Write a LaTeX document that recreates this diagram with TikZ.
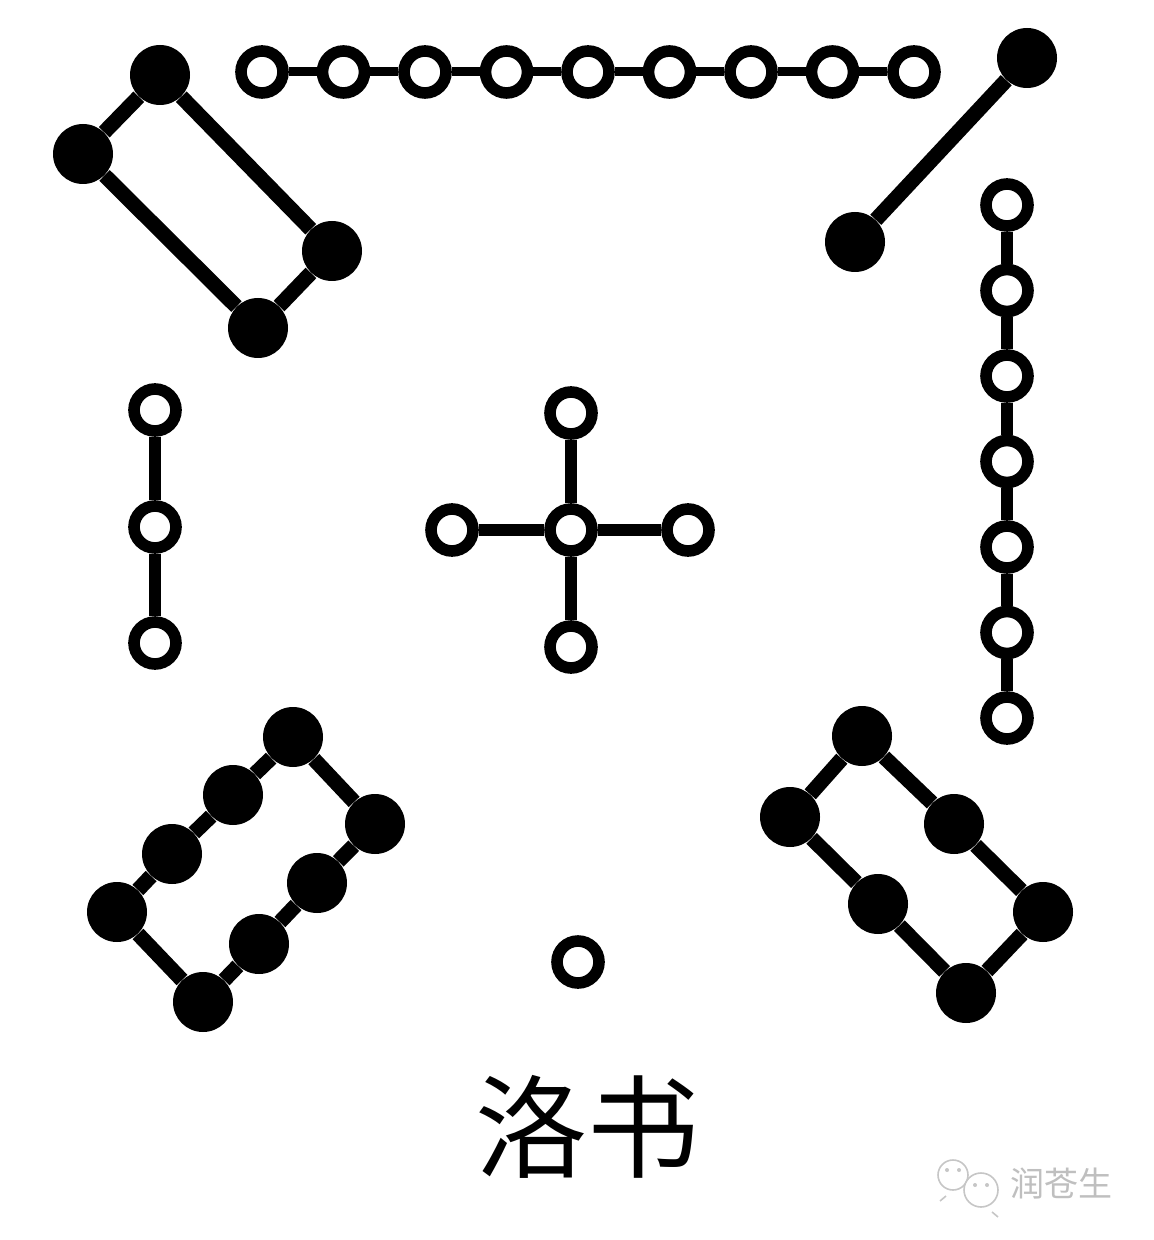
\documentclass[tikz,border=0pt]{standalone}
\usepackage{fontspec}
\newfontfamily\cjk{Noto Sans CJK SC}
\begin{document}
\begin{tikzpicture}[x=0.5pt,y=-0.5pt,
yang/.style={%
circle,
draw,
fill=white,
line width=5.8pt,
inner sep=0pt,
minimum size=21pt
},
yin/.style={%
circle,
fill=black,
inner sep=0pt,
minimum size=30pt
},
link/.style={%
line width=4.5pt
},
bar/.style={%
line width=6.2pt
},
heavy/.style={%
line width=7.5pt
},
]
\useasboundingbox (0,0) rectangle (1154,1240);
%% Nine (top row)
\foreach \i in {1,...,9}{%
\node[yang] (n\i) at ({262+81.5*(\i-1)},72) {};
}
\foreach \i [count=\j from 2] in {1,...,8}{%
\draw[link] (n\i)--(n\j);
}
%% Four (top left)
\node[yin] (a1) at (160,75) {};
\node[yin] (a2) at (83,154) {};
\node[yin] (a3) at (332,251) {};
\node[yin] (a4) at (258,328) {};
\draw[heavy] (a1)--(a2);
\draw[heavy] (a1)--(a3);
\draw[heavy] (a2)--(a4);
\draw[heavy] (a3)--(a4);
%% Two (top right)
\node[yin] (b1) at (1027,58) {};
\node[yin] (b2) at (855,242) {};
\draw[heavy] (b1)--(b2);
%% Seven (right column)
\foreach \i in {1,...,7}{%
\node[yang] (r\i) at (1007,{205+85.5*(\i-1)}) {};
}
\foreach \i [count=\j from 2] in {1,...,6}{%
\draw[bar] (r\i)--(r\j);
}
%% Three (left column)
\node[yang] (l1) at (155,410) {};
\node[yang] (l2) at (155,527) {};
\node[yang] (l3) at (155,643) {};
\draw[bar] (l1)--(l2);
\draw[bar] (l2)--(l3);
%% Five (centre)
\node[yang] (c0) at (571,530) {};
\node[yang] (cn) at (571,413) {};
\node[yang] (cw) at (452,530) {};
\node[yang] (ce) at (688,530) {};
\node[yang] (cs) at (571,647) {};
\foreach \p in {cn,cw,ce,cs}{%
\draw[bar] (c0)--(\p);
}
%% Eight (bottom left)
\node[yin] (d1) at (293,737) {};
\node[yin] (d2) at (233,795) {};
\node[yin] (d3) at (172,854) {};
\node[yin] (d4) at (117,912) {};
\node[yin] (d5) at (375,824) {};
\node[yin] (d6) at (317,883) {};
\node[yin] (d7) at (259,944) {};
\node[yin] (d8) at (203,1002) {};
\draw[heavy] (d1)--(d2);
\draw[heavy] (d2)--(d3);
\draw[heavy] (d3)--(d4);
\draw[heavy] (d5)--(d6);
\draw[heavy] (d6)--(d7);
\draw[heavy] (d7)--(d8);
\draw[heavy] (d1)--(d5);
\draw[heavy] (d4)--(d8);
%% Six (bottom right)
\node[yin] (e1) at (862,736) {};
\node[yin] (e2) at (790,817) {};
\node[yin] (e3) at (954,824) {};
\node[yin] (e4) at (878,904) {};
\node[yin] (e5) at (1043,912) {};
\node[yin] (e6) at (966,993) {};
\draw[heavy] (e1)--(e2);
\draw[heavy] (e1)--(e3);
\draw[heavy] (e3)--(e5);
\draw[heavy] (e2)--(e4);
\draw[heavy] (e4)--(e6);
\draw[heavy] (e5)--(e6);
%% One (bottom)
\node[yang] (f1) at (578,962) {};
%% Title
\node[font=\cjk\fontsize{56pt}{56pt}\selectfont] (title) at (587,1127) {洛书};
%% Watermark
\draw[gray!45,line width=0.8pt,fill=white] (953,1175) circle [radius=7.5pt];
\draw[gray!45,line width=0.8pt] (946,1196)--(940,1201);
\draw[gray!45,line width=0.8pt,fill=white] (981,1190) circle [radius=8.5pt];
\draw[gray!45,line width=0.8pt] (992,1212)--(998,1217);
\fill[gray!45] (947,1170) circle [radius=1pt] (959,1170) circle [radius=1pt];
\fill[gray!45] (975,1185) circle [radius=1pt] (987,1185) circle [radius=1pt];
\node[text=gray!50,font=\cjk\fontsize{17pt}{17pt}\selectfont,anchor=west] (mark) at (1003,1183) {润苍生};
\end{tikzpicture}
\end{document}
